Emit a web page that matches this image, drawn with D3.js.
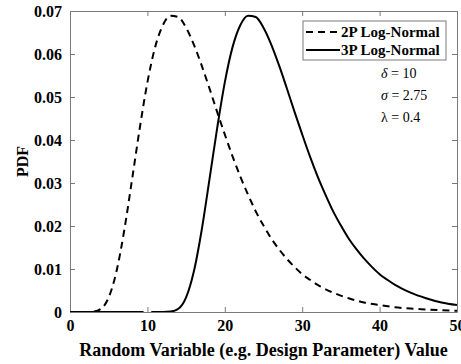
<!DOCTYPE html>
<html>
<head>
<meta charset="utf-8">
<script src="https://cdn.jsdelivr.net/npm/d3@7"></script>
<style>
  body { margin: 0; background: #fff; }
  svg text { font-family: "Liberation Serif", "Times New Roman", serif; }
</style>
</head>
<body>
<div id="chart"></div>
<script>
// values
const xTicks = [0, 10, 20, 30, 40, 50];
const yTicks = [0, 0.01, 0.02, 0.03, 0.04, 0.05, 0.06, 0.07];
const yTickLabels = ["0", "0.01", "0.02", "0.03", "0.04", "0.05", "0.06", "0.07"];

const seriesNames = ["2P Log-Normal", "3P Log-Normal"];
const params = ["δ = 10", "σ = 2.75", "λ = 0.4"];

// 2P log-normal (dashed)
const x2p = [0, 1, 2, 3, 4, 5, 6, 7, 8, 9, 10, 11, 12, 13, 14, 15, 16, 17, 18, 19, 20,
  21, 22, 23, 24, 25, 26, 27, 28, 29, 30, 31, 32, 34, 36, 38, 40, 42, 44, 46, 48, 50];
const y2p = [0, 0, 0, 0.0001, 0.00075, 0.0034, 0.0094, 0.0189, 0.0306, 0.0426, 0.0534,
  0.0616, 0.0667, 0.0689, 0.0686, 0.0661, 0.0622, 0.0574, 0.0521, 0.0466, 0.0413,
  0.0362, 0.0315, 0.0273, 0.0234, 0.0201, 0.0171, 0.0146, 0.0124, 0.0105, 0.0088,
  0.0075, 0.0063, 0.0045, 0.0032, 0.0022, 0.0016, 0.0011, 0.0008, 0.0006, 0.0004, 0.0003];

// 3P log-normal (solid), null = gap in the line near x = 10
const x3p = [0, 9.5, 10, 10.5, 11, 12, 13, 14, 15, 16, 17, 18, 19, 20, 21, 22, 23, 24, 25,
  26, 27, 28, 29, 30, 31, 32, 33, 34, 35, 36, 37, 38, 39, 40, 41, 42, 44, 46, 48, 50];
const y3p = [0, 0, null, 0, 0, 0, 0.0001, 0.00075, 0.0034, 0.0094, 0.0189, 0.0306, 0.0426,
  0.0534, 0.0616, 0.0667, 0.0689, 0.0686, 0.0661, 0.0622, 0.0574, 0.0521, 0.0466, 0.0413,
  0.0362, 0.0315, 0.0273, 0.0234, 0.0201, 0.0171, 0.0146, 0.0124, 0.0105, 0.0088, 0.0075,
  0.0063, 0.0045, 0.0032, 0.0022, 0.0016];

const W = 461, H = 364;
const margins = { top: 11, right: 4, bottom: 52, left: 70 };
const chartWidth = W - margins.left - margins.right;
const chartHeight = H - margins.top - margins.bottom;
const axisColor = "#7a7a7a";

const svg = d3.select("#chart").append("svg")
  .attr("width", W)
  .attr("height", H);

const mainG = svg.append("g")
  .attr("transform", `translate(${margins.left}, ${margins.top})`);

// SCALES
const xScale = d3.scaleLinear().domain([0, 50]).range([0, chartWidth]);
const yScale = d3.scaleLinear().domain([0, 0.07]).range([chartHeight, 0]);

// AXIS (ticks pointing inwards, like matlab)
const xAxis = d3.axisBottom(xScale).tickValues(xTicks).tickSizeInner(-5).tickSizeOuter(0).tickPadding(8);
const yAxis = d3.axisLeft(yScale).tickValues(yTicks).tickSizeInner(-5).tickSizeOuter(0).tickPadding(8)
  .tickFormat((d, i) => yTickLabels[i]);
const xTop = d3.axisTop(xScale).tickValues(xTicks).tickSizeInner(-5).tickSizeOuter(0).tickFormat("");
const yRight = d3.axisRight(yScale).tickValues(yTicks).tickSizeInner(-5).tickSizeOuter(0).tickFormat("");

const gx = mainG.append("g").attr("transform", `translate(0, ${chartHeight})`).call(xAxis);
const gy = mainG.append("g").call(yAxis);
const gt = mainG.append("g").call(xTop);
const gr = mainG.append("g").attr("transform", `translate(${chartWidth}, 0)`).call(yRight);

[gx, gy, gt, gr].forEach((g) => {
  g.select(".domain").attr("stroke", axisColor);
  g.selectAll(".tick line").attr("stroke", axisColor);
  g.selectAll("text")
    .attr("fill", "#000")
    .style("font-size", "16px")
    .style("font-weight", "bold");
});

// clip the curves to the plot box
svg.append("defs").append("clipPath").attr("id", "clip")
  .append("rect").attr("width", chartWidth).attr("height", chartHeight);

const line = d3.line()
  .defined((d) => d[1] !== null)
  .x((d) => xScale(d[0]))
  .y((d) => yScale(d[1]))
  .curve(d3.curveMonotoneX);

const plotG = mainG.append("g").attr("clip-path", "url(#clip)");

plotG.append("path")
  .datum(x2p.map((x, i) => [x, y2p[i]]))
  .attr("d", line)
  .attr("fill", "none")
  .attr("stroke", "#000")
  .attr("stroke-width", 2)
  .attr("stroke-dasharray", "7,5");

plotG.append("path")
  .datum(x3p.map((x, i) => [x, y3p[i]]))
  .attr("d", line)
  .attr("fill", "none")
  .attr("stroke", "#000")
  .attr("stroke-width", 2);

// Legend
const legend = svg.append("g").attr("transform", "translate(303, 21)");
legend.append("rect")
  .attr("width", 143).attr("height", 39)
  .attr("fill", "#fff")
  .attr("stroke", axisColor);

seriesNames.forEach((name, i) => {
  const ly = 11 + i * 18;
  legend.append("line")
    .attr("x1", 3).attr("x2", 37)
    .attr("y1", ly).attr("y2", ly)
    .attr("stroke", "#000")
    .attr("stroke-width", 2)
    .attr("stroke-dasharray", i === 0 ? "7,5" : null);
  legend.append("text")
    .attr("x", 38).attr("y", ly)
    .attr("dy", "0.35em")
    .style("font-size", "15px")
    .style("font-weight", "bold")
    .text(name);
});

// parameter annotations (greek symbol italic except lambda)
params.forEach((p, i) => {
  const t = svg.append("text")
    .attr("x", 381).attr("y", 78 + i * 22)
    .style("font-size", "14px");
  t.append("tspan").style("font-style", i < 2 ? "italic" : "normal").text(p.slice(0, 1));
  t.append("tspan").text(p.slice(1));
});

// Axis titles
svg.append("text")
  .attr("x", margins.left + chartWidth / 2)
  .attr("y", 356)
  .attr("text-anchor", "middle")
  .style("font-size", "18px")
  .style("font-weight", "bold")
  .text("Random Variable (e.g. Design Parameter) Value");

svg.append("text")
  .attr("transform", `translate(28, ${margins.top + chartHeight / 2}) rotate(-90)`)
  .attr("text-anchor", "middle")
  .style("font-size", "16px")
  .style("font-weight", "bold")
  .text("PDF");
</script>
</body>
</html>
